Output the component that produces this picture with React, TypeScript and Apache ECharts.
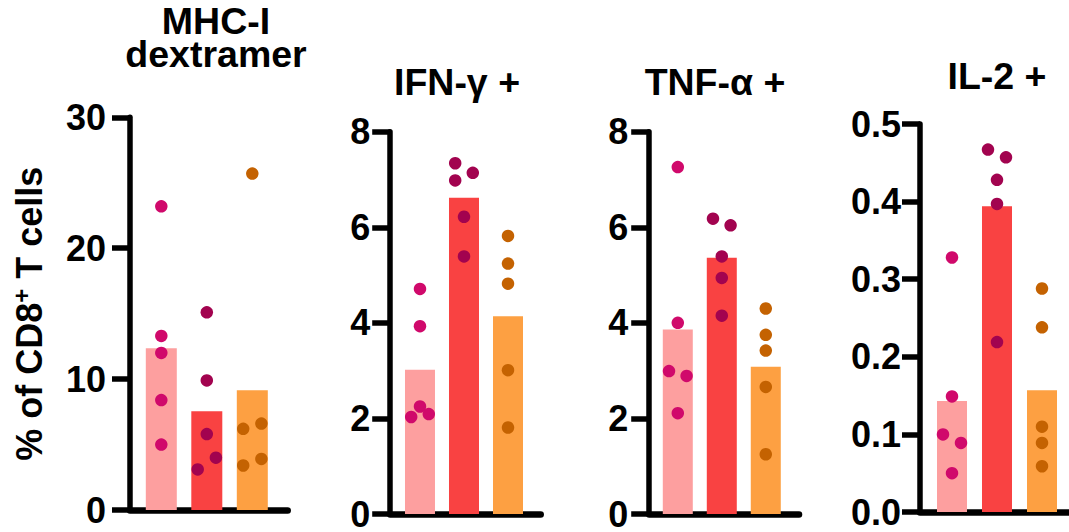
import React, { useEffect, useRef } from 'react';
import * as echarts from 'echarts';

// ---------- DATA ----------
const panelTitles: string[] = ['MHC-I\ndextramer', 'IFN-γ +', 'TNF-α +', 'IL-2 +'];
const yAxisTitle = '% of CD8{sup|+} T cells';
const yMaxes = [30, 8, 8, 0.5];
const yIntervals = [10, 2, 2, 0.1];
const yDecimals = [0, 0, 0, 1];

// bar heights (group 1, group 2, group 3)
const mhcBars = [12.35, 7.55, 9.15];
const ifnBars = [3.02, 6.62, 4.14];
const tnfBars = [3.86, 5.36, 3.08];
const il2Bars = [0.143, 0.394, 0.157];

// individual points per group
const mhcG1 = [23.2, 13.3, 12.0, 8.4, 5.0];
const mhcG2 = [15.1, 9.9, 5.8, 4.0, 3.1];
const mhcG3 = [25.7, 6.6, 6.2, 3.9, 3.4];

const ifnG1 = [4.71, 3.93, 2.25, 2.03, 2.09];
const ifnG2 = [7.34, 7.14, 6.98, 6.22, 5.39];
const ifnG3 = [5.82, 5.24, 4.82, 3.01, 1.81];

const tnfG1 = [7.26, 4.0, 2.99, 2.89, 2.11];
const tnfG2 = [6.18, 6.04, 5.39, 4.94, 4.15];
const tnfG3 = [4.3, 3.75, 3.42, 2.66, 1.25];

const il2G1 = [0.328, 0.149, 0.1, 0.089, 0.05];
const il2G2 = [0.467, 0.457, 0.428, 0.397, 0.219];
const il2G3 = [0.288, 0.238, 0.11, 0.089, 0.059];

// horizontal jitter of each point (in group units)
const mhcJ = [[0, 0, 0, 0, 0], [0, 0, 0, 0.2, -0.2], [0, 0.2, -0.2, 0.2, -0.2]];
const ifnJ = [[0, 0, 0, -0.2, 0.2], [-0.2, 0.2, -0.2, 0, 0], [0, 0, 0, 0, 0]];
const tnfJ = [[0, 0, -0.2, 0.2, 0], [-0.2, 0.2, 0, 0, 0], [0, 0, 0, 0, 0]];
const il2J = [[0, 0, -0.2, 0.2, 0], [-0.2, 0.2, 0, 0, 0], [0, 0, 0, 0, 0]];

const panelBars = [mhcBars, ifnBars, tnfBars, il2Bars];
const panelDots = [
  [mhcG1, mhcG2, mhcG3],
  [ifnG1, ifnG2, ifnG3],
  [tnfG1, tnfG2, tnfG3],
  [il2G1, il2G2, il2G3],
];
const panelJitter = [mhcJ, ifnJ, tnfJ, il2J];

// ---------- STYLE / LAYOUT ----------
const FONT = '"Liberation Sans", Arial, Helvetica, sans-serif';
const barColors = ['#FD9F9F', '#F94242', '#FDA042'];
const dotColors = ['#D0096B', '#A2034F', '#C46201'];

const layouts = [
  { left: 130, top: 117.3, width: 157.7, height: 392.7, xMin: -0.688, xMax: 2.778, barWidth: 31, labelMargin: 24, titleX: 216, titleY: 37.5 },
  { left: 390.2, top: 131.7, width: 150.5, height: 382.3, xMin: -0.677, xMax: 2.743, barWidth: 30, labelMargin: 20, titleX: 457, titleY: 82 },
  { left: 649.2, top: 131.7, width: 149.8, height: 382.3, xMin: -0.65, xMax: 2.755, barWidth: 30, labelMargin: 21, titleX: 715, titleY: 82 },
  { left: 920, top: 124, width: 149, height: 388, xMin: -0.711, xMax: 2.6, barWidth: 30, labelMargin: 19, titleX: 997, titleY: 75.5 },
];

function buildOption() {
  const series: any[] = [];
  layouts.forEach((l, i) => {
    series.push({
      type: 'bar',
      xAxisIndex: i,
      yAxisIndex: i,
      barWidth: l.barWidth,
      z: 2,
      data: panelBars[i].map((v, g) => ({ value: [g, v], itemStyle: { color: barColors[g] } })),
    });
    panelDots[i].forEach((vals, g) => {
      series.push({
        type: 'scatter',
        xAxisIndex: i,
        yAxisIndex: i,
        symbolSize: 12.5,
        z: 3,
        itemStyle: { color: dotColors[g], opacity: 1 },
        data: vals.map((v, k) => [g + panelJitter[i][g][k], v]),
      });
    });
  });

  const graphic: any[] = layouts.map((l, i) => ({
    type: 'text',
    x: l.titleX,
    y: l.titleY,
    style: {
      text: panelTitles[i],
      fill: '#000',
      fontSize: 37.5,
      fontWeight: 'bold',
      fontFamily: FONT,
      lineHeight: 33,
      align: 'center',
      verticalAlign: 'middle',
      textAlign: 'center',
      textVerticalAlign: 'middle',
    },
  }));

  return {
    animation: false,
    backgroundColor: '#ffffff',
    grid: layouts.map((l) => ({ left: l.left, top: l.top, width: l.width, height: l.height })),
    xAxis: layouts.map((l, i) => ({
      type: 'value',
      gridIndex: i,
      min: l.xMin,
      max: l.xMax,
      axisLine: { show: true, onZero: false, lineStyle: { color: '#000', width: 6.5, cap: 'round' } },
      axisTick: { show: false },
      axisLabel: { show: false },
      splitLine: { show: false },
    })),
    yAxis: layouts.map((l, i) => ({
      type: 'value',
      gridIndex: i,
      min: 0,
      max: yMaxes[i],
      interval: yIntervals[i],
      axisLine: { show: true, onZero: false, lineStyle: { color: '#000', width: 5.5, cap: 'round' } },
      axisTick: { show: true, length: 18, lineStyle: { color: '#000', width: 5.5 } },
      axisLabel: {
        margin: l.labelMargin,
        color: '#000',
        fontSize: 36,
        fontWeight: 'bold',
        fontFamily: FONT,
        lineHeight: 30,
        formatter: (v: number) => v.toFixed(yDecimals[i]),
      },
      splitLine: { show: false },
      name: i === 0 ? yAxisTitle : '',
      nameLocation: 'middle',
      nameGap: 81,
      nameRotate: 90,
      nameTextStyle: {
        color: '#000',
        fontSize: 36,
        fontWeight: 'bold',
        fontFamily: FONT,
        lineHeight: 40,
        rich: {
          sup: { fontSize: 24, fontWeight: 'bold', fontFamily: FONT, color: '#000', lineHeight: 12, verticalAlign: 'top' },
        },
      },
    })),
    graphic,
    series,
  };
}

export default function App() {
  const ref = useRef<HTMLDivElement>(null);
  useEffect(() => {
    if (!ref.current) return;
    const chart = echarts.init(ref.current, undefined, { renderer: 'svg' });
    chart.setOption(buildOption() as any);
    return () => chart.dispose();
  }, []);
  return <div ref={ref} style={{ position: 'absolute', left: 0, top: 0, width: 1069, height: 532 }} />;
}
